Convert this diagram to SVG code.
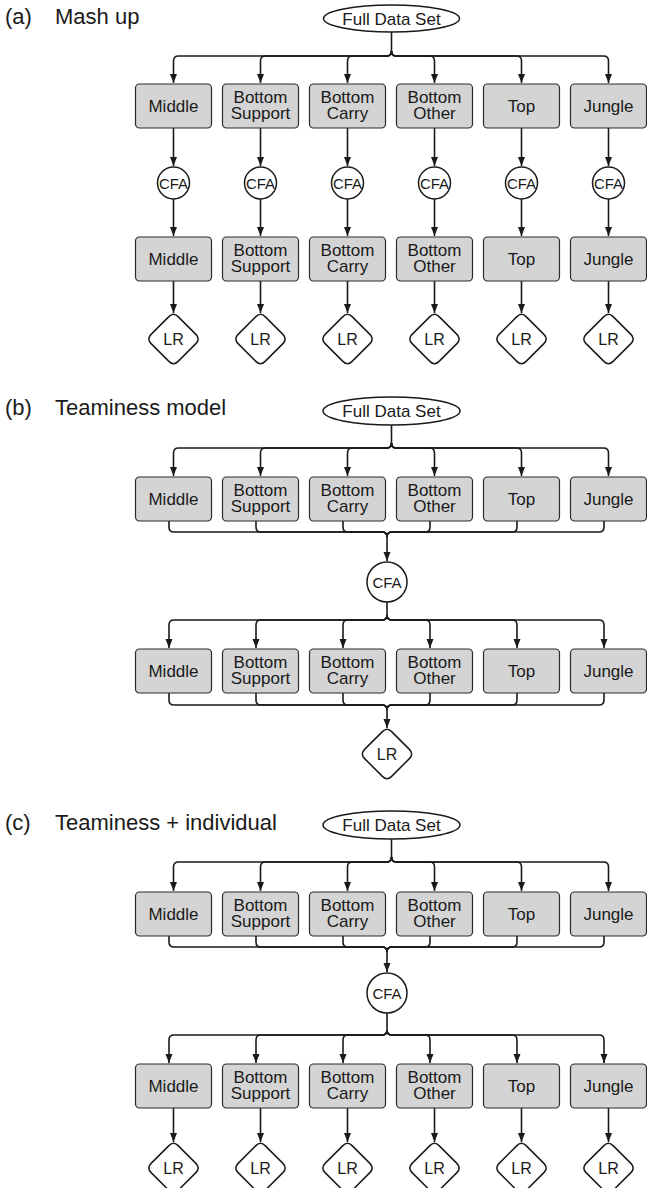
<svg xmlns="http://www.w3.org/2000/svg" xmlns:xlink="http://www.w3.org/1999/xlink" width="647" height="1188" viewBox="0 0 647 1188">
<style>
text{font-family:"Liberation Sans",Arial,sans-serif;fill:#1a1a1a}
.title{font-size:22px}
.lbl{font-size:17px;text-anchor:middle}
.fds{font-size:17px;text-anchor:middle}
.cfa{font-size:15px;text-anchor:middle}
.lr{font-size:16px;text-anchor:middle}
.box{fill:#d4d4d4;stroke:#2a2a2a;stroke-width:1.2}
.shape{fill:#fff;stroke:#1a1a1a;stroke-width:1.5}
.conn path{fill:none;stroke:#1a1a1a;stroke-width:1.6}
.arr{marker-end:url(#ah)}
</style>
<defs>
<marker id="ah" markerUnits="userSpaceOnUse" markerWidth="9" markerHeight="8" refX="9" refY="3.5" orient="auto">
<path d="M0,0 L9,3.5 L0,7 Z" fill="#1a1a1a"/>
</marker>
<path id="dia" class="shape" d="M-4.6,-22.4 Q0,-27 4.6,-22.4 L22.4,-4.6 Q27,0 22.4,4.6 L4.6,22.4 Q0,27 -4.6,22.4 L-22.4,4.6 Q-27,0 -22.4,-4.6 Z"/>
</defs>

<!-- Titles -->
<text class="title" x="5" y="24">(a)</text><text class="title" x="55" y="24">Mash up</text>
<text class="title" x="5" y="415">(b)</text><text class="title" x="55" y="415">Teaminess model</text>
<text class="title" x="5" y="830">(c)</text><text class="title" x="55" y="830">Teaminess + individual</text>

<!-- Connectors -->
<g id="connectors" class="conn">
<!-- (a) split -->
<path d="M391.5,32 V51"/>
<path class="arr" d="M391.5,51 Q391.5,56 386.5,56 H178.5 Q173.5,56 173.5,61 V83"/>
<path class="arr" d="M391.5,51 Q391.5,56 386.5,56 H265.5 Q260.5,56 260.5,61 V83"/>
<path class="arr" d="M391.5,51 Q391.5,56 386.5,56 H352.5 Q347.5,56 347.5,61 V83"/>
<path class="arr" d="M391.5,51 Q391.5,56 396.5,56 H429.5 Q434.5,56 434.5,61 V83"/>
<path class="arr" d="M391.5,51 Q391.5,56 396.5,56 H516.5 Q521.5,56 521.5,61 V83"/>
<path class="arr" d="M391.5,51 Q391.5,56 396.5,56 H603.5 Q608.5,56 608.5,61 V83"/>
<!-- (a) columns -->
<path class="arr" d="M173.5,128 V166"/><path class="arr" d="M260.5,128 V166"/><path class="arr" d="M347.5,128 V166"/>
<path class="arr" d="M434.5,128 V166"/><path class="arr" d="M521.5,128 V166"/><path class="arr" d="M608.5,128 V166"/>
<path class="arr" d="M173.5,199 V236"/><path class="arr" d="M260.5,199 V236"/><path class="arr" d="M347.5,199 V236"/>
<path class="arr" d="M434.5,199 V236"/><path class="arr" d="M521.5,199 V236"/><path class="arr" d="M608.5,199 V236"/>
<path class="arr" d="M173.5,281 V313"/><path class="arr" d="M260.5,281 V313"/><path class="arr" d="M347.5,281 V313"/>
<path class="arr" d="M434.5,281 V313"/><path class="arr" d="M521.5,281 V313"/><path class="arr" d="M608.5,281 V313"/>

<!-- (b) split 1 -->
<path d="M391.5,425 V443"/>
<path class="arr" d="M391.5,443 Q391.5,448 386.5,448 H178.5 Q173.5,448 173.5,453 V476"/>
<path class="arr" d="M391.5,443 Q391.5,448 386.5,448 H265.5 Q260.5,448 260.5,453 V476"/>
<path class="arr" d="M391.5,443 Q391.5,448 386.5,448 H352.5 Q347.5,448 347.5,453 V476"/>
<path class="arr" d="M391.5,443 Q391.5,448 396.5,448 H429.5 Q434.5,448 434.5,453 V476"/>
<path class="arr" d="M391.5,443 Q391.5,448 396.5,448 H516.5 Q521.5,448 521.5,453 V476"/>
<path class="arr" d="M391.5,443 Q391.5,448 396.5,448 H603.5 Q608.5,448 608.5,453 V476"/>
<!-- (b) merge 1 -->
<path d="M169,521 V527 Q169,532 174,532 H382 Q387,532 387,537"/>
<path d="M256,521 V527 Q256,532 261,532 H382 Q387,532 387,537"/>
<path d="M343,521 V527 Q343,532 348,532 H382 Q387,532 387,537"/>
<path d="M430,521 V527 Q430,532 425,532 H392 Q387,532 387,537"/>
<path d="M517,521 V527 Q517,532 512,532 H392 Q387,532 387,537"/>
<path d="M604,521 V527 Q604,532 599,532 H392 Q387,532 387,537"/>
<path class="arr" d="M387,537 V561"/>
<!-- (b) split 2 -->
<path d="M387,602 V615"/>
<path class="arr" d="M387,615 Q387,620 382,620 H174 Q169,620 169,625 V648"/>
<path class="arr" d="M387,615 Q387,620 382,620 H261 Q256,620 256,625 V648"/>
<path class="arr" d="M387,615 Q387,620 382,620 H348 Q343,620 343,625 V648"/>
<path class="arr" d="M387,615 Q387,620 392,620 H425 Q430,620 430,625 V648"/>
<path class="arr" d="M387,615 Q387,620 392,620 H512 Q517,620 517,625 V648"/>
<path class="arr" d="M387,615 Q387,620 392,620 H599 Q604,620 604,625 V648"/>
<!-- (b) merge 2 -->
<path d="M169,693 V700 Q169,705 174,705 H382 Q387,705 387,710"/>
<path d="M256,693 V700 Q256,705 261,705 H382 Q387,705 387,710"/>
<path d="M343,693 V700 Q343,705 348,705 H382 Q387,705 387,710"/>
<path d="M430,693 V700 Q430,705 425,705 H392 Q387,705 387,710"/>
<path d="M517,693 V700 Q517,705 512,705 H392 Q387,705 387,710"/>
<path d="M604,693 V700 Q604,705 599,705 H392 Q387,705 387,710"/>
<path class="arr" d="M387,710 V728"/>

<!-- (c) split 1 -->
<path d="M391.5,839 V857"/>
<path class="arr" d="M391.5,857 Q391.5,862 386.5,862 H178.5 Q173.5,862 173.5,867 V891"/>
<path class="arr" d="M391.5,857 Q391.5,862 386.5,862 H265.5 Q260.5,862 260.5,867 V891"/>
<path class="arr" d="M391.5,857 Q391.5,862 386.5,862 H352.5 Q347.5,862 347.5,867 V891"/>
<path class="arr" d="M391.5,857 Q391.5,862 396.5,862 H429.5 Q434.5,862 434.5,867 V891"/>
<path class="arr" d="M391.5,857 Q391.5,862 396.5,862 H516.5 Q521.5,862 521.5,867 V891"/>
<path class="arr" d="M391.5,857 Q391.5,862 396.5,862 H603.5 Q608.5,862 608.5,867 V891"/>
<!-- (c) merge -->
<path d="M169,936 V942 Q169,947 174,947 H382 Q387,947 387,952"/>
<path d="M256,936 V942 Q256,947 261,947 H382 Q387,947 387,952"/>
<path d="M343,936 V942 Q343,947 348,947 H382 Q387,947 387,952"/>
<path d="M430,936 V942 Q430,947 425,947 H392 Q387,947 387,952"/>
<path d="M517,936 V942 Q517,947 512,947 H392 Q387,947 387,952"/>
<path d="M604,936 V942 Q604,947 599,947 H392 Q387,947 387,952"/>
<path class="arr" d="M387,952 V972"/>
<!-- (c) split 2 -->
<path d="M387,1013 V1030"/>
<path class="arr" d="M387,1030 Q387,1035 382,1035 H174 Q169,1035 169,1040 V1063"/>
<path class="arr" d="M387,1030 Q387,1035 382,1035 H261 Q256,1035 256,1040 V1063"/>
<path class="arr" d="M387,1030 Q387,1035 382,1035 H348 Q343,1035 343,1040 V1063"/>
<path class="arr" d="M387,1030 Q387,1035 392,1035 H425 Q430,1035 430,1040 V1063"/>
<path class="arr" d="M387,1030 Q387,1035 392,1035 H512 Q517,1035 517,1040 V1063"/>
<path class="arr" d="M387,1030 Q387,1035 392,1035 H599 Q604,1035 604,1040 V1063"/>
<!-- (c) to LR -->
<path class="arr" d="M173.5,1108 V1142"/><path class="arr" d="M260.5,1108 V1142"/><path class="arr" d="M347.5,1108 V1142"/>
<path class="arr" d="M434.5,1108 V1142"/><path class="arr" d="M521.5,1108 V1142"/><path class="arr" d="M608.5,1108 V1142"/>
</g>

<!-- ===== (a) Mash up ===== -->
<g id="a-full"><ellipse class="shape" cx="391.5" cy="18.5" rx="68" ry="13.5"/><text class="fds" x="391.5" y="24.5">Full Data Set</text></g>
<g id="a-mid1"><rect class="box" x="135.5" y="84" width="76" height="44" rx="4"/><text class="lbl" x="173.5" y="112">Middle</text></g>
<g id="a-bs1"><rect class="box" x="222.5" y="84" width="76" height="44" rx="4"/><text class="lbl" x="260.5" y="103">Bottom</text><text class="lbl" x="260.5" y="119">Support</text></g>
<g id="a-bc1"><rect class="box" x="309.5" y="84" width="76" height="44" rx="4"/><text class="lbl" x="347.5" y="103">Bottom</text><text class="lbl" x="347.5" y="119">Carry</text></g>
<g id="a-bo1"><rect class="box" x="396.5" y="84" width="76" height="44" rx="4"/><text class="lbl" x="434.5" y="103">Bottom</text><text class="lbl" x="434.5" y="119">Other</text></g>
<g id="a-top1"><rect class="box" x="483.5" y="84" width="76" height="44" rx="4"/><text class="lbl" x="521.5" y="112">Top</text></g>
<g id="a-jun1"><rect class="box" x="570.5" y="84" width="76" height="44" rx="4"/><text class="lbl" x="608.5" y="112">Jungle</text></g>

<g id="a-cfa1"><circle class="shape" cx="173.5" cy="183" r="16"/><text class="cfa" x="173.5" y="188.5">CFA</text></g>
<g id="a-cfa2"><circle class="shape" cx="260.5" cy="183" r="16"/><text class="cfa" x="260.5" y="188.5">CFA</text></g>
<g id="a-cfa3"><circle class="shape" cx="347.5" cy="183" r="16"/><text class="cfa" x="347.5" y="188.5">CFA</text></g>
<g id="a-cfa4"><circle class="shape" cx="434.5" cy="183" r="16"/><text class="cfa" x="434.5" y="188.5">CFA</text></g>
<g id="a-cfa5"><circle class="shape" cx="521.5" cy="183" r="16"/><text class="cfa" x="521.5" y="188.5">CFA</text></g>
<g id="a-cfa6"><circle class="shape" cx="608.5" cy="183" r="16"/><text class="cfa" x="608.5" y="188.5">CFA</text></g>

<g id="a-mid2"><rect class="box" x="135.5" y="237" width="76" height="44" rx="4"/><text class="lbl" x="173.5" y="265">Middle</text></g>
<g id="a-bs2"><rect class="box" x="222.5" y="237" width="76" height="44" rx="4"/><text class="lbl" x="260.5" y="256">Bottom</text><text class="lbl" x="260.5" y="272">Support</text></g>
<g id="a-bc2"><rect class="box" x="309.5" y="237" width="76" height="44" rx="4"/><text class="lbl" x="347.5" y="256">Bottom</text><text class="lbl" x="347.5" y="272">Carry</text></g>
<g id="a-bo2"><rect class="box" x="396.5" y="237" width="76" height="44" rx="4"/><text class="lbl" x="434.5" y="256">Bottom</text><text class="lbl" x="434.5" y="272">Other</text></g>
<g id="a-top2"><rect class="box" x="483.5" y="237" width="76" height="44" rx="4"/><text class="lbl" x="521.5" y="265">Top</text></g>
<g id="a-jun2"><rect class="box" x="570.5" y="237" width="76" height="44" rx="4"/><text class="lbl" x="608.5" y="265">Jungle</text></g>

<g id="a-lr1"><use xlink:href="#dia" x="173.5" y="339"/><text class="lr" x="173.5" y="345">LR</text></g>
<g id="a-lr2"><use xlink:href="#dia" x="260.5" y="339"/><text class="lr" x="260.5" y="345">LR</text></g>
<g id="a-lr3"><use xlink:href="#dia" x="347.5" y="339"/><text class="lr" x="347.5" y="345">LR</text></g>
<g id="a-lr4"><use xlink:href="#dia" x="434.5" y="339"/><text class="lr" x="434.5" y="345">LR</text></g>
<g id="a-lr5"><use xlink:href="#dia" x="521.5" y="339"/><text class="lr" x="521.5" y="345">LR</text></g>
<g id="a-lr6"><use xlink:href="#dia" x="608.5" y="339"/><text class="lr" x="608.5" y="345">LR</text></g>

<!-- ===== (b) Teaminess model ===== -->
<g id="b-full"><ellipse class="shape" cx="391.5" cy="411" rx="68.5" ry="14"/><text class="fds" x="391.5" y="417">Full Data Set</text></g>
<g id="b-mid1"><rect class="box" x="135.5" y="477" width="76" height="44" rx="4"/><text class="lbl" x="173.5" y="505">Middle</text></g>
<g id="b-bs1"><rect class="box" x="222.5" y="477" width="76" height="44" rx="4"/><text class="lbl" x="260.5" y="496">Bottom</text><text class="lbl" x="260.5" y="512">Support</text></g>
<g id="b-bc1"><rect class="box" x="309.5" y="477" width="76" height="44" rx="4"/><text class="lbl" x="347.5" y="496">Bottom</text><text class="lbl" x="347.5" y="512">Carry</text></g>
<g id="b-bo1"><rect class="box" x="396.5" y="477" width="76" height="44" rx="4"/><text class="lbl" x="434.5" y="496">Bottom</text><text class="lbl" x="434.5" y="512">Other</text></g>
<g id="b-top1"><rect class="box" x="483.5" y="477" width="76" height="44" rx="4"/><text class="lbl" x="521.5" y="505">Top</text></g>
<g id="b-jun1"><rect class="box" x="570.5" y="477" width="76" height="44" rx="4"/><text class="lbl" x="608.5" y="505">Jungle</text></g>
<g id="b-cfa"><circle class="shape" cx="387" cy="582" r="20"/><text class="cfa" x="387" y="587.5">CFA</text></g>
<g id="b-mid2"><rect class="box" x="135.5" y="649" width="76" height="44" rx="4"/><text class="lbl" x="173.5" y="677">Middle</text></g>
<g id="b-bs2"><rect class="box" x="222.5" y="649" width="76" height="44" rx="4"/><text class="lbl" x="260.5" y="668">Bottom</text><text class="lbl" x="260.5" y="684">Support</text></g>
<g id="b-bc2"><rect class="box" x="309.5" y="649" width="76" height="44" rx="4"/><text class="lbl" x="347.5" y="668">Bottom</text><text class="lbl" x="347.5" y="684">Carry</text></g>
<g id="b-bo2"><rect class="box" x="396.5" y="649" width="76" height="44" rx="4"/><text class="lbl" x="434.5" y="668">Bottom</text><text class="lbl" x="434.5" y="684">Other</text></g>
<g id="b-top2"><rect class="box" x="483.5" y="649" width="76" height="44" rx="4"/><text class="lbl" x="521.5" y="677">Top</text></g>
<g id="b-jun2"><rect class="box" x="570.5" y="649" width="76" height="44" rx="4"/><text class="lbl" x="608.5" y="677">Jungle</text></g>
<g id="b-lr"><use xlink:href="#dia" x="387" y="754"/><text class="lr" x="387" y="760">LR</text></g>

<!-- ===== (c) Teaminess + individual ===== -->
<g id="c-full"><ellipse class="shape" cx="391.5" cy="825" rx="68.5" ry="14"/><text class="fds" x="391.5" y="831">Full Data Set</text></g>
<g id="c-mid1"><rect class="box" x="135.5" y="892" width="76" height="44" rx="4"/><text class="lbl" x="173.5" y="920">Middle</text></g>
<g id="c-bs1"><rect class="box" x="222.5" y="892" width="76" height="44" rx="4"/><text class="lbl" x="260.5" y="911">Bottom</text><text class="lbl" x="260.5" y="927">Support</text></g>
<g id="c-bc1"><rect class="box" x="309.5" y="892" width="76" height="44" rx="4"/><text class="lbl" x="347.5" y="911">Bottom</text><text class="lbl" x="347.5" y="927">Carry</text></g>
<g id="c-bo1"><rect class="box" x="396.5" y="892" width="76" height="44" rx="4"/><text class="lbl" x="434.5" y="911">Bottom</text><text class="lbl" x="434.5" y="927">Other</text></g>
<g id="c-top1"><rect class="box" x="483.5" y="892" width="76" height="44" rx="4"/><text class="lbl" x="521.5" y="920">Top</text></g>
<g id="c-jun1"><rect class="box" x="570.5" y="892" width="76" height="44" rx="4"/><text class="lbl" x="608.5" y="920">Jungle</text></g>
<g id="c-cfa"><circle class="shape" cx="387" cy="993" r="20"/><text class="cfa" x="387" y="998.5">CFA</text></g>
<g id="c-mid2"><rect class="box" x="135.5" y="1064" width="76" height="44" rx="4"/><text class="lbl" x="173.5" y="1092">Middle</text></g>
<g id="c-bs2"><rect class="box" x="222.5" y="1064" width="76" height="44" rx="4"/><text class="lbl" x="260.5" y="1083">Bottom</text><text class="lbl" x="260.5" y="1099">Support</text></g>
<g id="c-bc2"><rect class="box" x="309.5" y="1064" width="76" height="44" rx="4"/><text class="lbl" x="347.5" y="1083">Bottom</text><text class="lbl" x="347.5" y="1099">Carry</text></g>
<g id="c-bo2"><rect class="box" x="396.5" y="1064" width="76" height="44" rx="4"/><text class="lbl" x="434.5" y="1083">Bottom</text><text class="lbl" x="434.5" y="1099">Other</text></g>
<g id="c-top2"><rect class="box" x="483.5" y="1064" width="76" height="44" rx="4"/><text class="lbl" x="521.5" y="1092">Top</text></g>
<g id="c-jun2"><rect class="box" x="570.5" y="1064" width="76" height="44" rx="4"/><text class="lbl" x="608.5" y="1092">Jungle</text></g>
<g id="c-lr1"><use xlink:href="#dia" x="173.5" y="1168"/><text class="lr" x="173.5" y="1174">LR</text></g>
<g id="c-lr2"><use xlink:href="#dia" x="260.5" y="1168"/><text class="lr" x="260.5" y="1174">LR</text></g>
<g id="c-lr3"><use xlink:href="#dia" x="347.5" y="1168"/><text class="lr" x="347.5" y="1174">LR</text></g>
<g id="c-lr4"><use xlink:href="#dia" x="434.5" y="1168"/><text class="lr" x="434.5" y="1174">LR</text></g>
<g id="c-lr5"><use xlink:href="#dia" x="521.5" y="1168"/><text class="lr" x="521.5" y="1174">LR</text></g>
<g id="c-lr6"><use xlink:href="#dia" x="608.5" y="1168"/><text class="lr" x="608.5" y="1174">LR</text></g>
</svg>
